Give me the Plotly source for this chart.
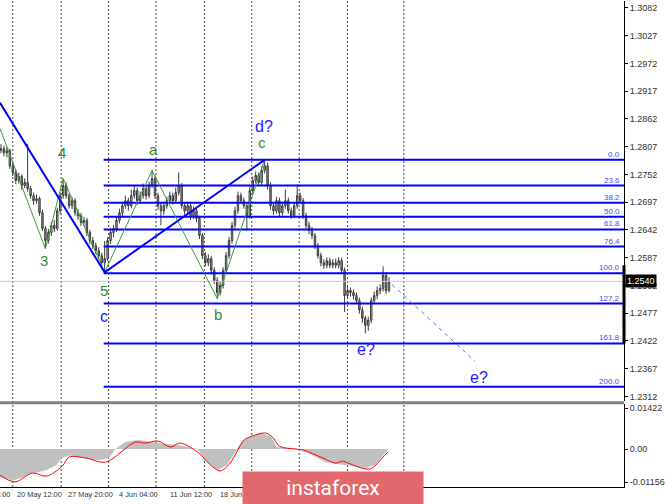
import plotly.graph_objects as go

# ---------------- data ----------------
opens = [1.2800,1.2803,1.2795,1.2799,1.2769,1.2756,1.2740,1.2748,1.2730,1.2736,
         1.2724,1.2710,1.2700,1.2704,1.2676,1.2645,1.2621,1.2637,1.2651,1.2645,
         1.2680,1.2710,1.2730,1.2710,1.2690,1.2700,1.2676,1.2670,1.2657,1.2661,
         1.2637,1.2621,1.2611,1.2601,1.2591,1.2577,1.2585,1.2621,1.2637,1.2645,
         1.2661,1.2676,1.2690,1.2700,1.2690,1.2710,1.2720,1.2700,1.2710,1.2724,
         1.2710,1.2730,1.2744,1.2710,1.2690,1.2680,1.2690,1.2700,1.2710,1.2700,
         1.2716,1.2730,1.2690,1.2680,1.2690,1.2670,1.2680,1.2665,1.2631,1.2591,
         1.2577,1.2585,1.2562,1.2542,1.2518,1.2532,1.2562,1.2591,1.2621,1.2651,
         1.2680,1.2710,1.2700,1.2690,1.2670,1.2720,1.2740,1.2750,1.2736,1.2760,
         1.2769,1.2730,1.2690,1.2680,1.2700,1.2676,1.2690,1.2700,1.2680,1.2670,
         1.2690,1.2710,1.2700,1.2670,1.2651,1.2641,1.2631,1.2611,1.2591,1.2577,
         1.2572,1.2581,1.2572,1.2577,1.2572,1.2581,1.2562,1.2512,1.2522,1.2518,
         1.2512,1.2502,1.2483,1.2467,1.2453,1.2463,1.2502,1.2512,1.2522,1.2526,
         1.2552,1.2522]
highs = [1.2812,1.2809,1.2806,1.2803,1.2775,1.2762,1.2755,1.2752,1.2744,1.2813,
         1.2729,1.2716,1.2712,1.2708,1.2682,1.2650,1.2644,1.2658,1.2662,1.2686,
         1.2716,1.2744,1.2736,1.2715,1.2707,1.2705,1.2684,1.2676,1.2668,1.2666,
         1.2642,1.2628,1.2617,1.2608,1.2597,1.2620,1.2628,1.2645,1.2652,1.2668,
         1.2684,1.2698,1.2710,1.2706,1.2722,1.2730,1.2726,1.2718,1.2734,1.2730,
         1.2738,1.2760,1.2750,1.2716,1.2696,1.2698,1.2708,1.2718,1.2716,1.2726,
         1.2756,1.2735,1.2696,1.2698,1.2695,1.2688,1.2686,1.2670,1.2636,1.2598,
         1.2594,1.2590,1.2568,1.2548,1.2540,1.2568,1.2598,1.2628,1.2658,1.2688,
         1.2718,1.2716,1.2706,1.2696,1.2728,1.2748,1.2758,1.2756,1.2768,1.2781,
         1.2775,1.2736,1.2696,1.2708,1.2706,1.2698,1.2722,1.2706,1.2686,1.2697,
         1.2732,1.2716,1.2705,1.2676,1.2658,1.2648,1.2636,1.2616,1.2597,1.2584,
         1.2588,1.2587,1.2584,1.2585,1.2588,1.2587,1.2567,1.2530,1.2528,1.2524,
         1.2518,1.2508,1.2490,1.2472,1.2470,1.2508,1.2520,1.2530,1.2534,1.2570,
         1.2558,1.2548]
lows = [1.2794,1.2788,1.2786,1.2763,1.2749,1.2733,1.2734,1.2722,1.2725,1.2718,
        1.2704,1.2692,1.2694,1.2670,1.2640,1.2605,1.2615,1.2630,1.2638,1.2640,
        1.2674,1.2704,1.2704,1.2684,1.2683,1.2670,1.2662,1.2650,1.2650,1.2630,
        1.2614,1.2604,1.2594,1.2584,1.2570,1.2558,1.2580,1.2614,1.2628,1.2638,
        1.2655,1.2668,1.2684,1.2680,1.2685,1.2704,1.2692,1.2694,1.2704,1.2702,
        1.2705,1.2725,1.2704,1.2682,1.2651,1.2672,1.2684,1.2694,1.2692,1.2694,
        1.2710,1.2684,1.2672,1.2674,1.2662,1.2664,1.2657,1.2624,1.2584,1.2570,
        1.2570,1.2554,1.2535,1.2506,1.2512,1.2526,1.2556,1.2585,1.2615,1.2645,
        1.2674,1.2694,1.2684,1.2641,1.2664,1.2714,1.2734,1.2730,1.2730,1.2754,
        1.2722,1.2682,1.2672,1.2674,1.2668,1.2670,1.2684,1.2674,1.2664,1.2665,
        1.2684,1.2694,1.2664,1.2645,1.2634,1.2624,1.2604,1.2585,1.2570,1.2565,
        1.2566,1.2566,1.2566,1.2566,1.2566,1.2555,1.2479,1.2506,1.2510,1.2504,
        1.2496,1.2476,1.2458,1.2437,1.2442,1.2457,1.2496,1.2505,1.2514,1.2520,
        1.2515,1.2518]
closes = [1.2803,1.2795,1.2799,1.2769,1.2756,1.2740,1.2748,1.2730,1.2736,1.2724,
          1.2710,1.2700,1.2704,1.2676,1.2645,1.2621,1.2637,1.2651,1.2645,1.2680,
          1.2710,1.2730,1.2710,1.2690,1.2700,1.2676,1.2670,1.2657,1.2661,1.2637,
          1.2621,1.2611,1.2601,1.2591,1.2577,1.2585,1.2621,1.2637,1.2645,1.2661,
          1.2676,1.2690,1.2700,1.2690,1.2710,1.2720,1.2700,1.2710,1.2724,1.2710,
          1.2730,1.2744,1.2710,1.2690,1.2680,1.2690,1.2700,1.2710,1.2700,1.2716,
          1.2730,1.2690,1.2680,1.2690,1.2670,1.2680,1.2665,1.2631,1.2591,1.2577,
          1.2585,1.2562,1.2542,1.2518,1.2532,1.2562,1.2591,1.2621,1.2651,1.2680,
          1.2710,1.2700,1.2690,1.2670,1.2720,1.2740,1.2750,1.2736,1.2760,1.2769,
          1.2730,1.2690,1.2680,1.2700,1.2676,1.2690,1.2700,1.2680,1.2670,1.2690,
          1.2710,1.2700,1.2670,1.2651,1.2641,1.2631,1.2611,1.2591,1.2577,1.2572,
          1.2581,1.2572,1.2577,1.2572,1.2581,1.2562,1.2512,1.2522,1.2518,1.2512,
          1.2502,1.2483,1.2467,1.2453,1.2463,1.2502,1.2512,1.2522,1.2526,1.2552,
          1.2522,1.2540]
bar_index = list(range(len(closes)))

last_price = 1.2540
price_ticks = [1.3082,1.3027,1.2972,1.2917,1.2862,1.2807,1.2752,1.2697,1.2642,
               1.2587,1.2532,1.2477,1.2422,1.2367,1.2312]

# Fibonacci grid
fib_labels = ["0.0","23.6","38.2","50.0","61.8","76.4","100.0","127.2","161.8","200.0"]
fib_prices = [1.2781,1.2730,1.2696,1.2668,1.2643,1.2609,1.2556,1.2496,1.2417,1.2331]
fib_start = 34.67

# wave counts
green_x = [-0.33, 15, 21, 35, 51, 73, 89]
green_y = [1.2843, 1.2605, 1.2744, 1.2558, 1.2760, 1.2506, 1.2781]
blue_x = [-0.33, 35, 89]
blue_y = [1.2894, 1.2558, 1.2781]
proj_x = [132, 160]
proj_y = [1.2534, 1.2382]

green_labels = [("3", 14.67, 1.2581), ("4", 20.67, 1.2795), ("5", 34.67, 1.2522),
                ("a", 51.33, 1.2801), ("b", 73.33, 1.2475), ("c", 88.0, 1.2815)]
blue_labels = [("c", 34.67, 1.2471), ("d?", 88.67, 1.2847),
               ("e?", 123.33, 1.2405), ("e?", 161.33, 1.2350)]

# oscillator (histogram + signal)
osc_x = [-0.33, 4, 6.3, 10.7, 15.3, 18.7, 20.3, 23, 28, 33, 36.3, 38.7, 42, 46.3,
         51.3, 55.3, 59.7, 64.7, 66.3, 69.7, 73, 76.3, 79.7, 82, 84.7, 88, 91.3,
         93, 99.7, 103, 109.7, 116.3, 123, 126.3, 130.7]
osc_hist = [-0.0097, -0.0108, -0.0101, -0.0083, -0.0073, -0.0055, -0.0031, -0.0021,
            -0.0031, -0.0038, -0.0031, 0.0, 0.0024, 0.0031, 0.0024, 0.0017, 0.0014,
            0.0003, 0.0, -0.0045, -0.0073, -0.0055, 0.0, 0.0031, 0.0045, 0.0055,
            0.0042, 0.0007, 0.0, -0.0010, -0.0045, -0.0055, -0.0066, -0.0055, 0.0]
sig_x = [-0.33, 4.7, 10.7, 15.3, 20.7, 23, 28.7, 35.3, 45.3, 48.7, 53, 57.3, 60.3,
         66.3, 70.7, 74, 77.3, 82, 84, 88, 89.7, 92, 94, 99.7, 102, 108.7, 113,
         115.3, 117.3, 123, 125.3, 128.7, 130.7]
sig_y = [-0.0090, -0.0114, -0.0083, -0.0094, -0.0059, -0.0028, -0.0031, -0.0045,
         0.0024, 0.0021, 0.0028, 0.0007, 0.0021, -0.0010, -0.0055, -0.0076, -0.0049,
         0.0031, 0.0042, 0.0055, 0.0055, 0.0038, 0.0010, 0.0, -0.0003, -0.0031,
         -0.0049, -0.0042, -0.0049, -0.0069, -0.0066, -0.0031, -0.0010]
osc_ticks = [0.01422, 0.0, -0.01156]
osc_ticktext = ["0.01422", "0.00", "-0.01156"]

# time axis
grid_bars = [4, 20.33, 36.33, 52.33, 68.67, 84.67, 100.67, 117, 136]
time_labels = ["20 May 12:00", "27 May 20:00", "4 Jun 04:00", "11 Jun 12:00",
               "18 Jun 20:00"]
time_label_bars = [4.6, 22, 39.3, 56.3, 73.3]

# ---------------- figure ----------------
X_RANGE = [-0.33, 210.33]
BLUE = "#0000ff"
GREEN = "#2e8b2e"
AXFONT = dict(family="Liberation Sans, Arial, sans-serif", size=9, color="#333333")
XFONT = dict(family="Liberation Sans, Arial, sans-serif", size=7.4, color="#333333")

fig = go.Figure()

fig.add_trace(go.Candlestick(
    x=bar_index, open=opens, high=highs, low=lows, close=closes,
    increasing=dict(line=dict(color="#3c3c3c", width=1), fillcolor="#bdbdbd"),
    decreasing=dict(line=dict(color="#3c3c3c", width=1), fillcolor="#9a9a9a"),
    whiskerwidth=0, showlegend=False, hoverinfo="skip", xaxis="x", yaxis="y"))

# current price line
fig.add_trace(go.Scatter(x=X_RANGE, y=[last_price, last_price], mode="lines",
                         line=dict(color="#c8c8c8", width=1), showlegend=False,
                         hoverinfo="skip", xaxis="x", yaxis="y"))

# fib lines
for lab, p in zip(fib_labels, fib_prices):
    fig.add_trace(go.Scatter(x=[fib_start, X_RANGE[1]], y=[p, p], mode="lines",
                             line=dict(color=BLUE, width=2), showlegend=False,
                             hoverinfo="skip", xaxis="x", yaxis="y"))
    fig.add_annotation(x=0.997, xref="paper", y=p, yref="y", text=lab,
                       showarrow=False, xanchor="right", yanchor="bottom",
                       yshift=-1, font=dict(family="Liberation Sans, Arial", size=8,
                                            color="#4848ff"))

# waves
fig.add_trace(go.Scatter(x=green_x, y=green_y, mode="lines",
                         line=dict(color="#3a9a3a", width=1), showlegend=False,
                         hoverinfo="skip", xaxis="x", yaxis="y"))
fig.add_trace(go.Scatter(x=blue_x, y=blue_y, mode="lines",
                         line=dict(color=BLUE, width=2), showlegend=False,
                         hoverinfo="skip", xaxis="x", yaxis="y"))
fig.add_trace(go.Scatter(x=proj_x, y=proj_y, mode="lines",
                         line=dict(color="#6a6aff", width=1, dash="4px,4px"),
                         showlegend=False, hoverinfo="skip", xaxis="x", yaxis="y"))

for t, x, y in green_labels:
    fig.add_annotation(x=x, y=y, xref="x", yref="y", text=t, showarrow=False,
                       font=dict(family="Liberation Sans, Arial", size=15, color=GREEN))
for t, x, y in blue_labels:
    fig.add_annotation(x=x, y=y, xref="x", yref="y", text=t, showarrow=False,
                       font=dict(family="Liberation Sans, Arial", size=16, color="#1a1aff"))

# oscillator
fig.add_trace(go.Scatter(x=osc_x, y=osc_hist, mode="lines", fill="tozeroy",
                         fillcolor="#c0c0c0", line=dict(color="#c0c0c0", width=0.5),
                         showlegend=False, hoverinfo="skip", xaxis="x2", yaxis="y2"))
fig.add_trace(go.Scatter(x=sig_x, y=sig_y, mode="lines", line_shape="spline",
                         line=dict(color="#ff0000", width=1), showlegend=False,
                         hoverinfo="skip", xaxis="x2", yaxis="y2"))

# vertical dotted grid lines across both panels
for g in grid_bars:
    fig.add_shape(type="line", xref="x", yref="paper", x0=g, x1=g, y0=0, y1=1,
                  line=dict(color="#444444", width=1, dash="2px,2px"), layer="below")

# panel separator
fig.add_shape(type="line", xref="paper", yref="paper", x0=0, x1=1,
              y0=0.1735, y1=0.1735, line=dict(color="#808080", width=3))

# price tag + range marker
fig.add_shape(type="line", xref="paper", yref="y", x0=1.0, x1=1.0,
              y0=1.2572, y1=1.2417, line=dict(color="#000000", width=3))
fig.add_annotation(x=1.0, xref="paper", y=last_price, yref="y", text="1.2540",
                   showarrow=False, xanchor="left", xshift=1, bgcolor="#000000",
                   borderpad=1, font=dict(family="Liberation Sans, Arial", size=9,
                                          color="#ffffff"))

# time labels
fig.add_annotation(x=0.019, xref="paper", y=-0.0145, yref="paper", text="4:00",
                   showarrow=False, xanchor="right", yanchor="middle", font=XFONT)
for t, b in zip(time_labels, time_label_bars):
    fig.add_annotation(x=b, xref="x", y=-0.0145, yref="paper", text=t,
                       showarrow=False, xanchor="left", yanchor="middle", font=XFONT)

# watermark logo
fig.add_annotation(x=0.5336, xref="paper", y=-0.002, yref="paper", text="instaforex",
                   showarrow=False, xanchor="center", yanchor="middle",
                   width=178, height=30, bgcolor="#e2686d",
                   font=dict(family="Roboto, Lato, sans-serif", size=21, color="#ffffff"))

fig.update_layout(
    width=665, height=504,
    margin=dict(l=0, r=33, t=0, b=17),
    paper_bgcolor="#ffffff", plot_bgcolor="#ffffff",
    showlegend=False,
    xaxis=dict(domain=[0, 1], range=X_RANGE, anchor="y", showticklabels=False,
               showgrid=False, zeroline=False, showline=False, ticks="",
               rangeslider=dict(visible=False)),
    xaxis2=dict(domain=[0, 1], range=X_RANGE, anchor="y2", showticklabels=False,
                showgrid=False, zeroline=False, showline=True, linecolor="#000000",
                linewidth=1, ticks="", matches="x"),
    yaxis=dict(domain=[0.1766, 1], range=[1.23026, 1.30958], side="right",
               anchor="x", tickvals=price_ticks,
               ticktext=[f"{v:.4f}" for v in price_ticks],
               showgrid=False, zeroline=False, showline=True, linecolor="#000000",
               linewidth=1, ticks="outside", ticklen=3, tickcolor="#000000",
               tickfont=AXFONT),
    yaxis2=dict(domain=[0, 0.1704], range=[-0.01318, 0.01561], side="right",
                anchor="x2", tickvals=osc_ticks, ticktext=osc_ticktext,
                showgrid=False, zeroline=False, showline=True, linecolor="#000000",
                linewidth=1, ticks="outside", ticklen=3, tickcolor="#000000",
                tickfont=AXFONT),
)

fig.write_html("out.html", config={"displayModeBar": False, "staticPlot": True},
               post_script="document.body.style.margin='0';"
                           "document.body.style.padding='0';"
                           "document.body.style.overflow='hidden';")
